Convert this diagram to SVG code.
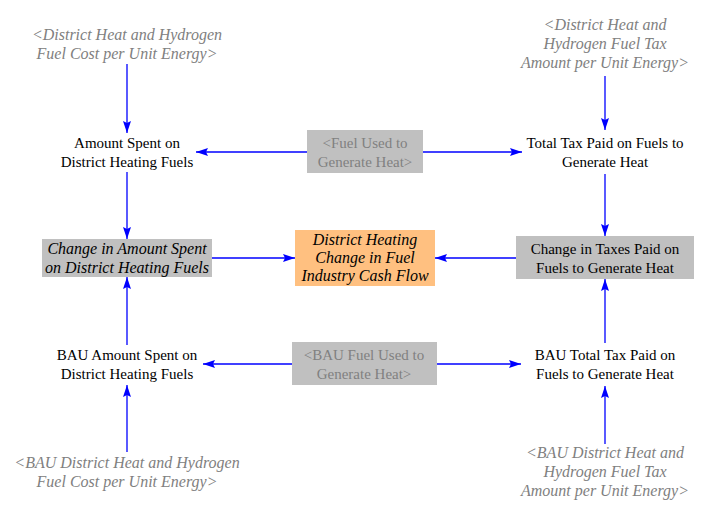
<svg xmlns="http://www.w3.org/2000/svg" width="716" height="515" viewBox="0 0 716 515" font-family="'Times New Roman', 'Liberation Serif', 'DejaVu Serif', serif">
<style>
text{font-family:'Times New Roman','Liberation Serif','Noto Serif','DejaVu Serif',serif;font-size:15px;text-anchor:middle}
.sh{fill:#808080;font-style:italic;font-size:16px}
.gt{fill:#808080}
.it{font-style:italic;font-size:16px}
.box{fill:#C0C0C0}
.c line{stroke:#0000FF;stroke-width:1.3;marker-end:url(#ah)}
</style>
<defs>
<marker id="ah" viewBox="0 0 12 8" refX="12" refY="4" markerWidth="12" markerHeight="8" markerUnits="userSpaceOnUse" orient="auto">
<path d="M0,0 L12,4 L0,8 L2,4 Z" fill="#0000FF"/>
</marker>
</defs>
<rect width="716" height="515" fill="#fff"/>
<g class="c" id="connectors">
<line x1="127" y1="64" x2="127" y2="133"/>
<line x1="307" y1="152" x2="196" y2="152"/>
<line x1="423" y1="152" x2="522" y2="152"/>
<line x1="605" y1="76" x2="605" y2="130"/>
<line x1="605" y1="174" x2="605" y2="236"/>
<line x1="516" y1="258" x2="435" y2="258"/>
<line x1="212" y1="258" x2="295" y2="258"/>
<line x1="127" y1="172" x2="127" y2="239"/>
<line x1="127" y1="345" x2="127" y2="277"/>
<line x1="292" y1="364" x2="203" y2="364"/>
<line x1="437" y1="364" x2="521" y2="364"/>
<line x1="605" y1="343" x2="605" y2="279"/>
<line x1="605" y1="444" x2="605" y2="386"/>
<line x1="127" y1="452" x2="127" y2="385"/>
</g>
<g id="dh_cost">
<text class="sh" x="127" y="40">&lt;District Heat and Hydrogen</text>
<text class="sh" x="127" y="59">Fuel Cost per Unit Energy&gt;</text>
</g>
<g id="dh_tax">
<text class="sh" x="605" y="30">&lt;District Heat and</text>
<text class="sh" x="605" y="49">Hydrogen Fuel Tax</text>
<text class="sh" x="605" y="68">Amount per Unit Energy&gt;</text>
</g>
<g id="amount_spent">
<text x="127" y="148">Amount Spent on</text>
<text x="127" y="167">District Heating Fuels</text>
</g>
<g id="fuel_used">
<rect class="box" x="307" y="130" width="116" height="43"/>
<text class="gt" x="365" y="148">&lt;Fuel Used to</text>
<text class="gt" x="365" y="167">Generate Heat&gt;</text>
</g>
<g id="total_tax">
<text x="605" y="148">Total Tax Paid on Fuels to</text>
<text x="605" y="167">Generate Heat</text>
</g>
<g id="change_amount">
<rect class="box" x="42" y="239" width="170" height="38"/>
<text class="it" x="127" y="254">Change in Amount Spent</text>
<text class="it" x="127" y="273">on District Heating Fuels</text>
</g>
<g id="cash_flow">
<rect x="295" y="230" width="140" height="56" fill="#FFC080"/>
<text class="it" x="365" y="245">District Heating</text>
<text class="it" x="365" y="263">Change in Fuel</text>
<text class="it" x="365" y="281">Industry Cash Flow</text>
</g>
<g id="change_taxes">
<rect class="box" x="516" y="236" width="178" height="43"/>
<text x="605" y="254">Change in Taxes Paid on</text>
<text x="605" y="273">Fuels to Generate Heat</text>
</g>
<g id="bau_amount">
<text x="127" y="360">BAU Amount Spent on</text>
<text x="127" y="379">District Heating Fuels</text>
</g>
<g id="bau_fuel_used">
<rect class="box" x="292" y="342" width="145" height="43"/>
<text class="gt" x="364" y="360">&lt;BAU Fuel Used to</text>
<text class="gt" x="364" y="379">Generate Heat&gt;</text>
</g>
<g id="bau_total_tax">
<text x="605" y="360">BAU Total Tax Paid on</text>
<text x="605" y="379">Fuels to Generate Heat</text>
</g>
<g id="bau_dh_cost">
<text class="sh" x="127" y="468">&lt;BAU District Heat and Hydrogen</text>
<text class="sh" x="127" y="487">Fuel Cost per Unit Energy&gt;</text>
</g>
<g id="bau_dh_tax">
<text class="sh" x="605" y="458">&lt;BAU District Heat and</text>
<text class="sh" x="605" y="477">Hydrogen Fuel Tax</text>
<text class="sh" x="605" y="496">Amount per Unit Energy&gt;</text>
</g>
</svg>
